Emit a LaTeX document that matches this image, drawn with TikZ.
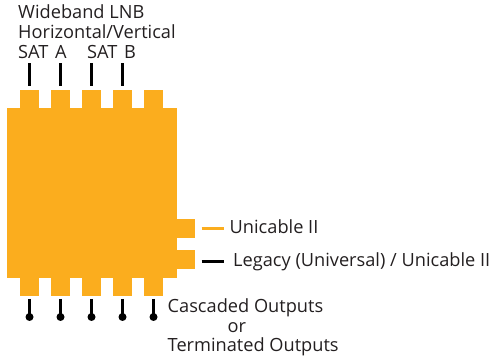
\documentclass[tikz,border=0pt]{standalone}
\usepackage{fontspec}
\setmainfont{Open Sans}
\definecolor{amp}{HTML}{FBAD1E}
\definecolor{ink}{HTML}{231F20}
\tikzset{
  x=1pt,y=-1pt,
  part/.style={fill=amp,draw=none,inner sep=0pt,outer sep=0pt,minimum width=#1},
  wire/.style={line width=3.5pt,draw=black},
  lab/.style={font=\fontsize{18.2}{21}\selectfont,text=ink,inner sep=0pt,anchor=base west},
}
\begin{document}
\begin{tikzpicture}
\useasboundingbox (0,0) rectangle (493,358);
% body
\node[part=170pt,minimum height=170pt] (body) at (92,193) {};
\foreach \n/\x in {1/29.5,2/60.5,3/91.5,4/122.5,5/153.5}{
  \node[part=19pt,minimum height=18pt] (t\n) at (\x,99) {};
  \node[part=19pt,minimum height=18pt] (b\n) at (\x,287) {};
  \coordinate (be\n) at (\x,317);
  \coordinate (bs\n) at (\x,299);
  \draw[wire] (bs\n) -- (be\n);
  \fill[black] (be\n) circle (4);
}
\foreach \n/\x in {1/29.5,2/60.5,3/91.5,4/122.5}{
  \coordinate (ts\n) at (\x,86);
  \coordinate (te\n) at (\x,63);
  \draw[wire] (ts\n) -- (te\n);
}
\node[part=18pt,minimum height=19pt] (r1) at (186,228.5) {};
\node[part=18pt,minimum height=19pt] (r2) at (186,259.5) {};
\coordinate (u1) at (201.5,228.5); \coordinate (u2) at (224,228.5);
\coordinate (l1) at (201.5,261.5); \coordinate (l2) at (224,261.5);
\draw[wire,draw=amp] (u1) -- (u2);
\draw[wire] (l1) -- (l2);
% labels
\node[lab] (a) at (18,19) {Wideband LNB};
\node[lab] (b) at (18,39) {Horizontal/Vertical};
\node[lab] (c) at (18,59) {SAT\hspace{2pt} A};
\node[lab] (d) at (87,59) {SAT\hspace{2pt} B};
\node[lab] (e) at (229.5,234) {Unicable II};
\node[lab] (f) at (233,267) {Legacy (Universal) / Unicable II};
\node[lab] (g) at (167.5,312.5) {Cascaded Outputs};
\node[lab] (h) at (227.5,332) {or};
\node[lab] (i) at (167.5,352) {Terminated Outputs};
\end{tikzpicture}
\end{document}
